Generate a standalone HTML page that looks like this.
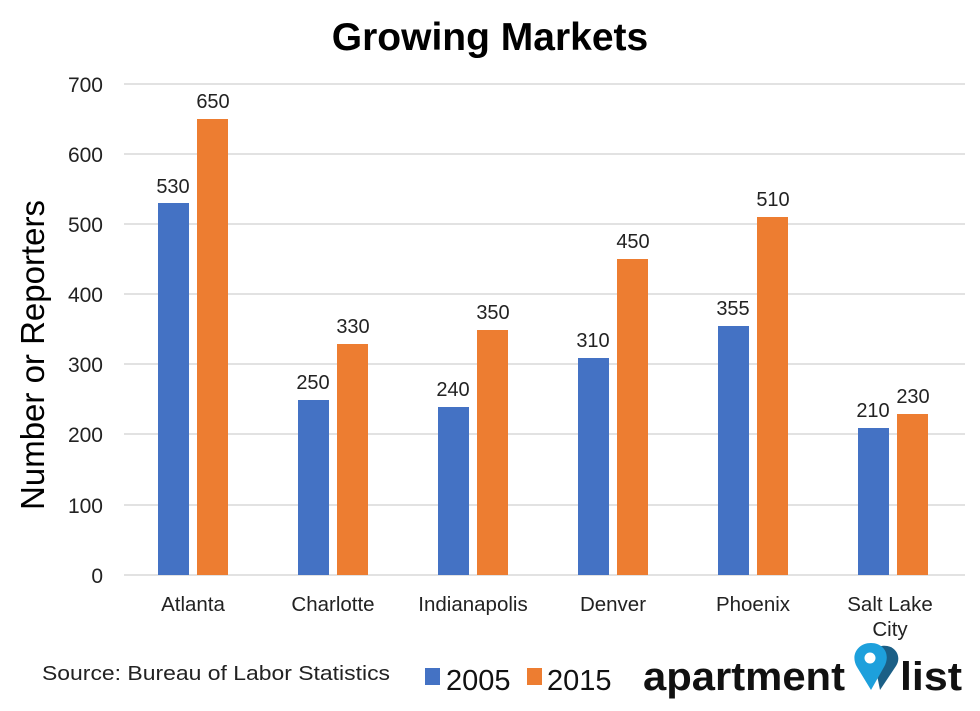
<!DOCTYPE html>
<html><head><meta charset="utf-8"><style>body{margin:0;background:#fff}svg{display:block}</style></head>
<body>
<svg width="980" height="711" viewBox="0 0 980 711" xmlns="http://www.w3.org/2000/svg" font-family="Liberation Sans, Arial, sans-serif">
<rect width="980" height="711" fill="#fff"/>
<text x="490" y="50" text-anchor="middle" font-size="39" font-weight="bold" fill="#000">Growing Markets</text>
<g stroke="#d9d9d9" stroke-width="1.5">
<line x1="124" x2="965" y1="84" y2="84"/><line x1="124" x2="965" y1="154" y2="154"/>
<line x1="124" x2="965" y1="224" y2="224"/><line x1="124" x2="965" y1="294" y2="294"/>
<line x1="124" x2="965" y1="364" y2="364"/><line x1="124" x2="965" y1="434" y2="434"/>
<line x1="124" x2="965" y1="505" y2="505"/><line x1="124" x2="965" y1="575" y2="575"/>
</g>
<g font-size="21" fill="#222" text-anchor="end">
<text x="103" y="92">700</text><text x="103" y="162">600</text><text x="103" y="232">500</text>
<text x="103" y="302">400</text><text x="103" y="372">300</text><text x="103" y="442">200</text>
<text x="103" y="513">100</text><text x="103" y="583">0</text>
</g>
<text transform="translate(44,355) rotate(-90)" text-anchor="middle" font-size="33" fill="#000">Number or Reporters</text>
<g fill="#4472C4">
<rect x="158" y="203" width="31" height="372"/>
<rect x="298" y="400" width="31" height="175"/>
<rect x="438" y="407" width="31" height="168"/>
<rect x="578" y="358" width="31" height="217"/>
<rect x="718" y="326" width="31" height="249"/>
<rect x="858" y="428" width="31" height="147"/>
</g>
<g fill="#ED7D31">
<rect x="197" y="119" width="31" height="456"/>
<rect x="337" y="344" width="31" height="231"/>
<rect x="477" y="330" width="31" height="245"/>
<rect x="617" y="259" width="31" height="316"/>
<rect x="757" y="217" width="31" height="358"/>
<rect x="897" y="414" width="31" height="161"/>
</g>
<g font-size="20" fill="#222" text-anchor="middle">
<text x="173" y="193">530</text><text x="213" y="108">650</text>
<text x="313" y="389">250</text><text x="353" y="333">330</text>
<text x="453" y="396">240</text><text x="493" y="319">350</text>
<text x="593" y="347">310</text><text x="633" y="248">450</text>
<text x="733" y="315">355</text><text x="773" y="206">510</text>
<text x="873" y="417">210</text><text x="913" y="403">230</text>
</g>
<g font-size="20.5" fill="#222" text-anchor="middle">
<text x="193" y="611">Atlanta</text><text x="333" y="611">Charlotte</text>
<text x="473" y="611">Indianapolis</text><text x="613" y="611">Denver</text>
<text x="753" y="611">Phoenix</text><text x="890" y="611">Salt Lake</text><text x="890" y="636">City</text>
</g>
<text x="42" y="680" font-size="20" fill="#222" textLength="348" lengthAdjust="spacingAndGlyphs">Source: Bureau of Labor Statistics</text>
<rect x="425" y="668" width="15" height="17" fill="#4472C4"/>
<text x="446" y="690" font-size="29" fill="#111">2005</text>
<rect x="527" y="668" width="15" height="17" fill="#ED7D31"/>
<text x="547" y="690" font-size="29" fill="#111">2015</text>
<text x="643" y="690" font-size="40" font-weight="bold" fill="#111" textLength="202" lengthAdjust="spacingAndGlyphs">apartment</text>
<path d="M872 650 C890 638 904 654 896 666 L880 690 Z" fill="#1b5f86"/>
<path d="M871 643 C858 643 850 655 857 667 L871 690 L884 667 C891 655 884 643 871 643 Z" fill="#1da0dc"/>
<circle cx="870" cy="658" r="5.5" fill="#fff"/>
<text x="900" y="690" font-size="40" font-weight="bold" fill="#111" textLength="62" lengthAdjust="spacingAndGlyphs">list</text>
</svg>
</body></html>
